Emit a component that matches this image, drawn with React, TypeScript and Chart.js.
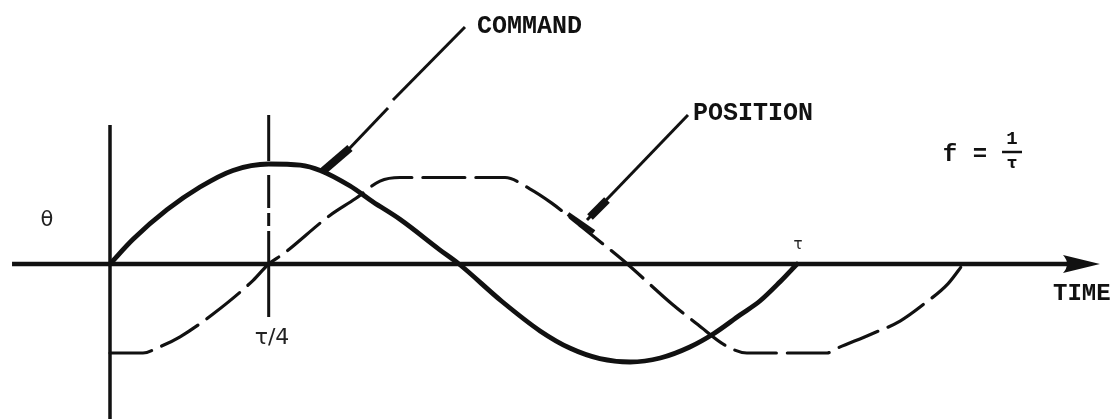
import React, { useEffect, useRef } from "react";
import { Chart, registerables } from "chart.js";

Chart.register(...registerables);

const W = 1116;
const H = 419;

// time axis in units of the period τ, angle axis in units of the command amplitude
const X_MIN = -0.16012;
const X_MAX = 1.46434;
const Y_MIN = -1.55;
const Y_MAX = 2.64;

// COMMAND (solid sine)
const commandT = [0, 0.0335, 0.083, 0.131, 0.179, 0.231, 0.277, 0.306, 0.349, 0.383, 0.422, 0.48, 0.508, 0.5706, 0.626, 0.67, 0.713, 0.757, 0.801, 0.844, 0.878, 0.917, 0.946, 0.975, 1.0];
const commandTheta = [0, 0.247, 0.543, 0.77, 0.936, 1.0, 0.988, 0.936, 0.782, 0.62, 0.447, 0.142, 0, -0.375, -0.669, -0.843, -0.946, -0.98, -0.94, -0.83, -0.7, -0.51, -0.37, -0.18, 0];

// POSITION (dashed, rate limited response)
const positionT = [0, 0.048, 0.07, 0.102, 0.15, 0.208, 0.231, 0.252, 0.32, 0.357, 0.393, 0.422, 0.517, 0.575, 0.611, 0.643, 0.684, 0.728, 0.753, 0.818, 0.856, 0.895, 0.927, 0.975, 1.044, 1.055, 1.106, 1.15, 1.186, 1.22, 1.242];
const positionTheta = [-0.89, -0.89, -0.836, -0.728, -0.5, -0.166, 0, 0.1, 0.485, 0.652, 0.829, 0.865, 0.865, 0.865, 0.752, 0.609, 0.386, 0.143, 0, -0.4, -0.608, -0.811, -0.89, -0.89, -0.89, -0.853, -0.707, -0.571, -0.394, -0.196, 0];

// axes and the τ/4 marker
const timeAxisT = [-0.1426, 1.395];
const thetaAxisTheta = [1.39, -1.6];
const quarterT = 0.231;
const quarterDashedTheta = [1.49, 0.31];
const quarterSolidTheta = [0.31, -0.53];

// leader lines of the labels
const commandLeader1T = [0.5167, 0.4119];
const commandLeader1Theta = [2.37, 1.64];
const commandLeader2T = [0.4047, 0.3464];
const commandLeader2Theta = [1.56, 1.14];
const commandHeadT = [0.3493, 0.3086];
const commandHeadTheta = [1.16, 0.92];
const positionLeaderT = [0.8413, 0.6943];
const positionLeaderTheta = [1.49, 0.44];
const positionHeadT = [0.7234, 0.6987];
const positionHeadTheta = [0.64, 0.47];
const positionBarT = [0.6667, 0.7045];
const positionBarTheta = [0.5, 0.32];

// arrow at the end of the time axis
const arrowT = [1.3872, 1.441];
const arrowHalf = 0.09;

// texts
const labelTexts = ["COMMAND", "POSITION", "TIME", "θ", "τ/4", "τ"];
const labelT = [0.5342, 0.8486, 1.3726, -0.0917, 0.2358, 1.0015];
const labelTheta = [2.37, 1.5, -0.3, 0.43, -0.74, 0.19];
const labelAlign: CanvasTextAlign[] = ["left", "left", "left", "center", "center", "center"];
const labelFont = [
  'bold 25px "Liberation Mono", monospace',
  'bold 25px "Liberation Mono", monospace',
  'bold 24px "Liberation Mono", monospace',
  '21px "DejaVu Sans", sans-serif',
  '22px "DejaVu Sans", sans-serif',
  '15px "DejaVu Sans", sans-serif',
];
const formulaT = [1.2227, 1.2664, 1.313];
const formulaTheta = [1.09, 1.09, 1.25, 1.12, 1.0];

const pts = (xs: number[], ys: number[]) => xs.map((x, i) => ({ x, y: ys[i] }));

const decorPlugin = {
  id: "decor",
  beforeDraw(chart: any) {
    const c = chart.ctx;
    c.save();
    c.fillStyle = "#ffffff";
    c.fillRect(0, 0, chart.width, chart.height);
    c.restore();
  },
  afterDatasetsDraw(chart: any) {
    const c = chart.ctx;
    const xs = chart.scales.x;
    const ys = chart.scales.y;
    const px = (v: number) => xs.getPixelForValue(v);
    const py = (v: number) => ys.getPixelForValue(v);
    c.save();
    c.fillStyle = "#111";
    c.strokeStyle = "#111";
    // arrowhead
    c.beginPath();
    c.moveTo(px(arrowT[0]), py(arrowHalf));
    c.quadraticCurveTo(px(arrowT[0]) + 8, py(0), px(arrowT[0]), py(-arrowHalf));
    c.lineTo(px(arrowT[1]), py(0));
    c.closePath();
    c.fill();
    // labels
    c.textBaseline = "middle";
    labelTexts.forEach((t, i) => {
      c.font = labelFont[i];
      c.textAlign = labelAlign[i];
      c.fillStyle = i === 3 || i === 4 || i === 5 ? "#222" : "#111";
      c.fillText(t, px(labelT[i]), py(labelTheta[i]));
    });
    // f = 1/τ
    c.fillStyle = "#111";
    c.textAlign = "center";
    c.font = 'bold 24px "Liberation Mono", monospace';
    c.fillText("f", px(formulaT[0]), py(formulaTheta[0]));
    c.fillText("=", px(formulaT[1]), py(formulaTheta[1]));
    c.font = 'bold 19px "Liberation Mono", monospace';
    c.fillText("1", px(formulaT[2]), py(formulaTheta[2]));
    c.lineWidth = 2.5;
    c.beginPath();
    c.moveTo(px(formulaT[2]) - 10, py(formulaTheta[3]));
    c.lineTo(px(formulaT[2]) + 10, py(formulaTheta[3]));
    c.stroke();
    c.font = 'bold 15px "DejaVu Sans", sans-serif';
    c.fillText("τ", px(formulaT[2]), py(formulaTheta[4]));
    c.restore();
  },
};

const line = (data: any, width: number, extra: any = {}) => ({
  data,
  borderColor: "#111",
  borderWidth: width,
  pointRadius: 0,
  tension: 0,
  fill: false,
  borderCapStyle: "butt",
  ...extra,
});

export default function App() {
  const ref = useRef<HTMLCanvasElement | null>(null);
  useEffect(() => {
    if (!ref.current) return;
    const chart = new Chart(ref.current, {
      type: "line",
      data: {
        datasets: [
          line(pts(timeAxisT, [0, 0]), 4.5),
          line(pts([0, 0], thetaAxisTheta), 3.5),
          line(pts([quarterT, quarterT], quarterDashedTheta), 3, { borderDash: [46, 14, 33, 5, 13, 5] }),
          line(pts([quarterT, quarterT], quarterSolidTheta), 3),
          line(pts(positionT, positionTheta), 3.2, { borderDash: [42, 11], cubicInterpolationMode: "monotone", borderCapStyle: "round" }),
          line(pts(commandT, commandTheta), 4.8, { cubicInterpolationMode: "monotone", borderCapStyle: "round" }),
          line(pts(commandLeader1T, commandLeader1Theta), 3),
          line(pts(commandLeader2T, commandLeader2Theta), 3),
          line(pts(commandHeadT, commandHeadTheta), 8),
          line(pts(positionLeaderT, positionLeaderTheta), 3),
          line(pts(positionHeadT, positionHeadTheta), 8),
          line(pts(positionBarT, positionBarTheta), 4.5),
        ],
      },
      options: {
        responsive: false,
        animation: false,
        devicePixelRatio: 1,
        events: [],
        layout: { padding: 0 },
        plugins: { legend: { display: false }, tooltip: { enabled: false } },
        scales: {
          x: { type: "linear", min: X_MIN, max: X_MAX, display: false },
          y: { type: "linear", min: Y_MIN, max: Y_MAX, display: false },
        },
      },
      plugins: [decorPlugin],
    } as any);
    return () => chart.destroy();
  }, []);
  return (
    <div style={{ position: "absolute", left: 0, top: 0, width: W, height: H, background: "#fff" }}>
      <canvas ref={ref} width={W} height={H} style={{ display: "block", width: W, height: H }} />
    </div>
  );
}
